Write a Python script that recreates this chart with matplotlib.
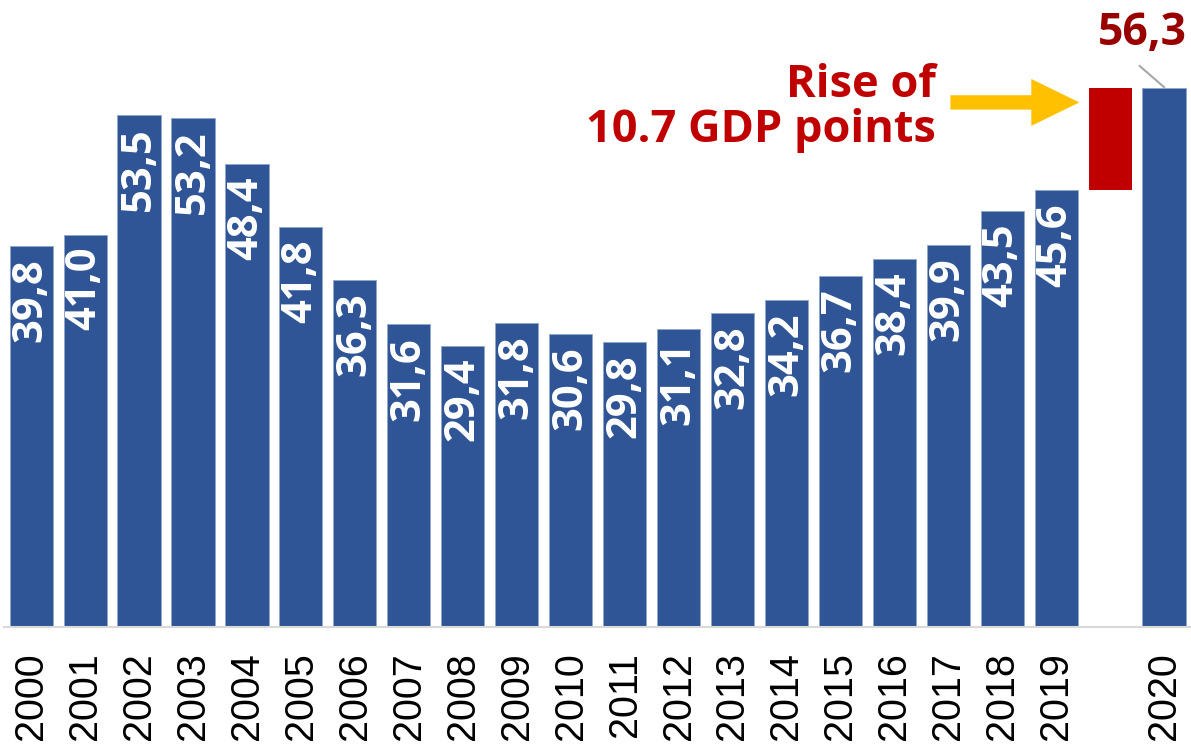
import numpy as np
import matplotlib
matplotlib.use("Agg")
import matplotlib.pyplot as plt
from matplotlib.patches import FancyArrow

# Data
years = ["2000", "2001", "2002", "2003", "2004", "2005", "2006", "2007", "2008", "2009",
         "2010", "2011", "2012", "2013", "2014", "2015", "2016", "2017", "2018", "2019"]
values = [39.8, 41.0, 53.5, 53.2, 48.4, 41.8, 36.3, 31.6, 29.4, 31.8,
          30.6, 29.8, 31.1, 32.8, 34.2, 36.7, 38.4, 39.9, 43.5, 45.6]
last_year = "2020"
last_value = 56.3
rise = 10.7

blue = "#2F5597"
red = "#C00000"
dark_red = "#990000"

fig = plt.figure(figsize=(11.91, 7.44), dpi=100)
ax = fig.add_axes([0.0035, 0.1573, 0.9965, 0.8427])

x = np.arange(len(years))
ax.bar(x, values, width=0.8, color=blue, edgecolor="#8FA6CC", linewidth=0.6)

# floating bar showing the jump, then 2020
x_rise = len(years)
x_last = len(years) + 1
ax.bar(x_rise, rise, bottom=values[-1], width=0.8, color=red)
ax.bar(x_last, last_value, width=0.8, color=blue, edgecolor="#8FA6CC", linewidth=0.6)

# value labels inside the bars
for xi, v in zip(x, values):
    ax.text(xi, v - 1.3, f"{v:.1f}".replace(".", ","), rotation=90, ha="center", va="top",
            color="white", fontsize=30, fontweight="bold", family="Open Sans")

# 2020 label with a leader line
ax.text(21.42, 60.8, f"{last_value:.1f}".replace(".", ","), ha="right", va="baseline",
        color=dark_red, fontsize=32, fontweight="bold", family="Open Sans")
ax.plot([20.55, 21.0], [58.6, 56.4], color="#A6A6A6", lw=1.5)

# annotation text and arrow
ax.text(16.77, 55.4, "Rise of", ha="right", va="baseline", color=red,
        fontsize=32.5, fontweight="bold", family="Open Sans")
ax.text(16.77, 50.7, f"{rise} GDP points", ha="right", va="baseline", color=red,
        fontsize=32.5, fontweight="bold", family="Open Sans")

arrow = FancyArrow(17.04, 54.8, 2.39, 0, width=1.5, head_width=4.9, head_length=0.89,
                   length_includes_head=True, color="#FFC000", lw=0)
ax.add_patch(arrow)

ax.set_xlim(-0.5, 21.5)
ax.set_ylim(0, 65.5)
ax.set_xticks(list(x) + [x_last])
ax.set_xticklabels(years + [last_year], rotation=90, fontsize=28.5, family="Liberation Sans")
ax.tick_params(axis="x", length=0, pad=18)
ax.set_yticks([])
for side in ["top", "right", "left"]:
    ax.spines[side].set_visible(False)
ax.spines["bottom"].set_color("#D9D9D9")
ax.spines["bottom"].set_linewidth(1.5)

fig.savefig("out.png", dpi=100)
